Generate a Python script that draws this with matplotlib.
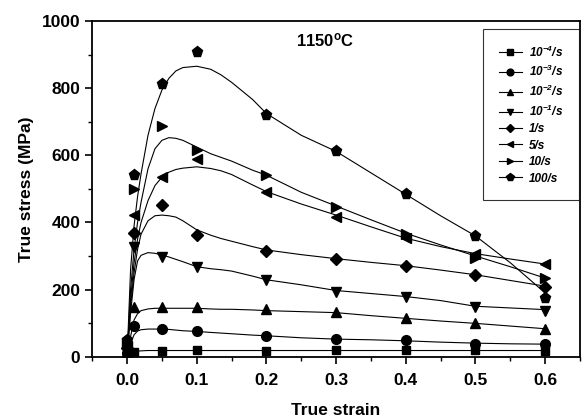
import matplotlib
matplotlib.use("Agg")
import matplotlib.pyplot as plt
from matplotlib.lines import Line2D
from matplotlib.ticker import MultipleLocator

plt.rcParams['font.family'] = ['Liberation Sans', 'DejaVu Sans']
plt.rcParams['font.weight'] = 'bold'
plt.rcParams['mathtext.default'] = 'regular'

# measured points
strain = [0.0, 0.01, 0.05, 0.1, 0.2, 0.3, 0.4, 0.5, 0.6]
rates = ['10$^{-4}$/s', '10$^{-3}$/s', '10$^{-2}$/s', '10$^{-1}$/s', '1/s', '5/s', '10/s', '100/s']
markers = ['s', 'o', '^', 'v', 'D', '<', '>', 'p']
msizes = [6, 7, 7, 7, 6, 7, 7, 8]

s_1e4 = [5, 14, 17, 20, 18, 20, 20, 20, 18]
s_1e3 = [10, 91, 82, 76, 60, 52, 48, 38, 36]
s_1e2 = [15, 147, 147, 147, 142, 132, 114, 99, 82]
s_1e1 = [20, 328, 298, 268, 229, 194, 177, 149, 137]
s_1 = [25, 370, 452, 363, 316, 291, 271, 244, 206]
s_5 = [30, 422, 537, 588, 492, 417, 353, 307, 276]
s_10 = [40, 500, 688, 616, 542, 447, 366, 294, 234]
s_100 = [50, 542, 813, 907, 720, 613, 484, 360, 176]

# fitted (model) curves
c_strain = [0, 0.005, 0.01, 0.015, 0.02, 0.03, 0.04, 0.05, 0.06, 0.07, 0.08, 0.1,
            0.12, 0.135, 0.15, 0.18, 0.2, 0.25, 0.3, 0.35, 0.4, 0.45, 0.5, 0.55, 0.6]
c_1e4 = [0, 8, 14, 16, 17, 18, 18, 18, 18, 18, 18, 18, 18, 18, 18, 18, 18, 18, 18, 18, 18, 18, 18, 18, 18]
c_1e3 = [0, 40, 65, 76, 80, 82, 82, 82, 81, 79, 77, 75, 72, 70, 68, 64, 62, 56, 52, 50, 47, 43, 40, 38, 37]
c_1e2 = [0, 60, 109, 128, 137, 142, 144, 144, 144, 144, 144, 144, 142, 141, 141, 139, 137, 134, 131, 122, 114, 106, 99, 91, 83]
c_1e1 = [0, 130, 230, 285, 302, 310, 308, 303, 297, 290, 283, 268, 262, 259, 255, 240, 229, 214, 197, 188, 179, 167, 150, 145, 140]
c_1 = [0, 150, 250, 320, 365, 405, 420, 422, 420, 416, 405, 378, 362, 352, 344, 328, 318, 304, 292, 281, 271, 258, 244, 227, 210]
c_5 = [0, 170, 280, 350, 400, 465, 510, 535, 550, 558, 562, 566, 561, 554, 543, 512, 492, 455, 422, 387, 353, 328, 307, 291, 276]
c_10 = [0, 200, 320, 400, 460, 560, 620, 645, 653, 651, 645, 625, 605, 594, 583, 556, 541, 490, 449, 408, 368, 333, 300, 268, 234]
c_100 = [0, 260, 390, 477, 545, 660, 740, 795, 830, 852, 862, 866, 857, 840, 818, 767, 725, 660, 612, 548, 484, 420, 360, 280, 190]

points = [s_1e4, s_1e3, s_1e2, s_1e1, s_1, s_5, s_10, s_100]
curves = [c_1e4, c_1e3, c_1e2, c_1e1, c_1, c_5, c_10, c_100]

fig = plt.figure(figsize=(5.84, 4.18), dpi=100)
ax = fig.add_axes([0.158, 0.147, 0.835, 0.802])

handles = []
for pts, cur, m, ms, lab in zip(points, curves, markers, msizes, rates):
    ax.plot(c_strain, cur, color='k', lw=0.8)
    ax.plot(strain, pts, ls='none', marker=m, ms=ms, color='k')
    handles.append(Line2D([], [], color='k', lw=0.8, marker=m, ms=ms * 0.7, label=lab))

ax.set_xlim(-0.05, 0.65)
ax.set_ylim(0, 1000)
ax.xaxis.set_major_locator(MultipleLocator(0.1))
ax.xaxis.set_minor_locator(MultipleLocator(0.05))
ax.yaxis.set_major_locator(MultipleLocator(200))
ax.yaxis.set_minor_locator(MultipleLocator(100))
ax.xaxis.set_major_formatter(plt.FuncFormatter(lambda v, p: '%.1f' % v))
ax.tick_params(which='major', direction='out', length=5, width=1.2, labelsize=12.5)
ax.tick_params(axis='x', which='major', pad=7)
ax.tick_params(which='minor', direction='out', length=3, width=1.0)
for sp in ax.spines.values():
    sp.set_linewidth(1.3)

ax.set_xlabel('True strain', fontsize=12.5, fontweight='bold', labelpad=11)
ax.set_ylabel('True stress (MPa)', fontsize=12.5, fontweight='bold', labelpad=6)
ax.text(0.284, 944, '1150$^{o}$C', fontsize=12, fontweight='bold', ha='center', va='center')

leg = ax.legend(handles=handles, loc='upper right', bbox_to_anchor=(0.998, 0.977),
                fancybox=False, frameon=True, edgecolor='k',
                prop={'style': 'italic', 'weight': 'bold', 'size': 8.5},
                borderpad=1.3, labelspacing=0.38, handlelength=2.0, handletextpad=0.6,
                borderaxespad=0)
leg.get_frame().set_linewidth(0.8)

fig.savefig('out.png', dpi=100)
